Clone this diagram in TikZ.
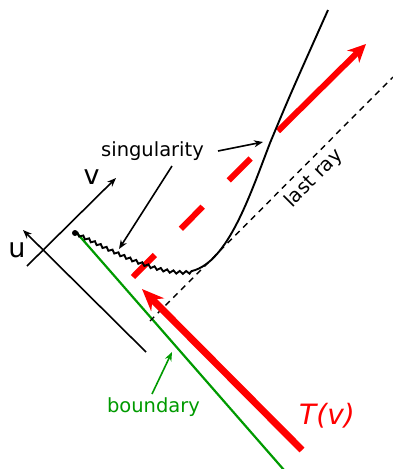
\documentclass[tikz,border=0pt]{standalone}
\usepackage{fontspec}
\setmainfont{DejaVu Sans}
\usetikzlibrary{arrows.meta,decorations.pathmorphing}
\definecolor{rayRed}{HTML}{FF0000}
\definecolor{edgeGreen}{HTML}{009A00}

\begin{document}
\begin{tikzpicture}[x=1pt,y=-1pt,
  lbl/.style={font=\fontsize{19.5}{22}\selectfont, inner sep=0pt},
  axislbl/.style={font=\fontsize{27}{30}\selectfont, inner sep=0pt},
  thinarrow/.style={line width=1.6pt, -{Stealth[length=9pt,width=7pt]}}]
\useasboundingbox (0,0) rectangle (393,469);

% axes u and v
\coordinate (u0) at (146,352); \coordinate (u1) at (23,230);
\coordinate (v0) at (27,266);  \coordinate (v1) at (116,178);
\draw[thinarrow] (u0) -- (u1);
\draw[thinarrow] (v0) -- (v1);
\node[axislbl] (ulab) at (17,250) {u};
\node[axislbl] (vlab) at (91.5,177) {v};

% boundary and last ray
\coordinate (g0) at (76,232); \coordinate (g1) at (284,470);
\draw[edgeGreen, line width=2.2pt] (g0) -- (g1);
\coordinate (r0) at (150,321); \coordinate (r1) at (393,77);
\draw[line width=1.4pt, dash pattern=on 6pt off 5pt] (r0) -- (r1);
\node[lbl, rotate=45] (ray) at (314,178.5) {last ray};

% red rays
\coordinate (t0) at (302,450); \coordinate (t1) at (142,289);
\draw[rayRed, line width=7pt, -{Stealth[length=22pt,width=18pt]}] (t0) -- (t1);
\coordinate (d0) at (133,277); \coordinate (d1) at (253,156);
\draw[rayRed, line width=6pt, dash pattern=on 31pt off 37pt] (d0) -- (d1);
\coordinate (d2) at (278,131); \coordinate (d3) at (366,44);
\draw[rayRed, line width=6pt, -{Stealth[length=18pt,width=17pt]}] (d2) -- (d3);
\node[lbl, font=\fontsize{28}{30}\selectfont\itshape, text=rayRed] (tv) at (327,416) {T(v)};

% curve with singular part
\coordinate (c0) at (75,233); \coordinate (c1) at (192,271);
\draw[line width=1.9pt, decorate, decoration={snake, amplitude=1.4pt, segment length=6.5pt}]
  (c0) .. controls (120,255) and (160,276) .. (c1);
\fill (c0) circle (3pt);
\draw[line width=1.9pt] (c1) .. controls (228,262) and (250,195) .. (270,143)
  .. controls (290,95) .. (328,10);

% labels with pointers
\node[lbl] (sing) at (152.5,151.5) {singularity};
\coordinate (s1) at (172,166); \coordinate (w1) at (119,249);
\coordinate (s2) at (218,151); \coordinate (w2) at (263,142);
\draw[thinarrow] (s1) -- (w1);
\draw[thinarrow] (s2) -- (w2);
\node[lbl, text=edgeGreen] (bnd) at (153.5,407) {boundary};
\coordinate (b1) at (152,394); \coordinate (b2) at (172,352);
\draw[edgeGreen, thinarrow] (b1) -- (b2);
\end{tikzpicture}
\end{document}
